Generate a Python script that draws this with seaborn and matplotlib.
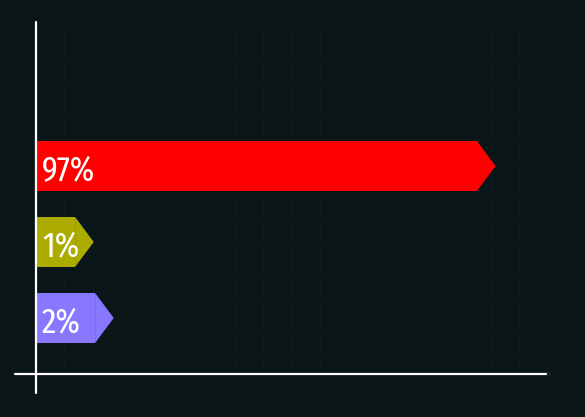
import numpy as np
import pandas as pd
import matplotlib
matplotlib.use("Agg")
import matplotlib.pyplot as plt
from matplotlib.ticker import MultipleLocator
import seaborn as sns

# ---- data ----
categories = ["A", "B", "C"]
shares = [97, 1, 2]                 # label values (%)
bar_extent = [97, 8.6, 13.0]        # rendered bar extent on the x axis (small bars keep room for label)
bar_colors = ["#ff0000", "#abab00", "#8877ff"]
labels = [f"{v}%" for v in shares]

BG = "#0a1517"
GRID = "#0f1a1c"

sns.set_theme(style="dark")
plt.rcParams["font.family"] = ["Fira Sans Extra Condensed", "DejaVu Sans"]

fig = plt.figure(figsize=(5.85, 4.17), dpi=100, facecolor=BG)
ax = fig.add_axes([36 / 585, 1 - 374 / 417, 510 / 585, 352 / 417])
ax.set_facecolor(BG)

df = pd.DataFrame({"cat": categories, "ext": bar_extent})
sns.barplot(data=df, x="ext", y="cat", hue="cat", palette=bar_colors,
            width=0.658, legend=False, ax=ax, saturation=1, linewidth=0)

ax.set_xlim(0, 112.2)
ax.set_ylim(2.737, -1.895)

# arrow tips on each bar
tip = 4.1
for p, col in zip(ax.patches, bar_colors):
    x1 = p.get_x() + p.get_width()
    y0 = p.get_y()
    h = p.get_height()
    ax.fill([x1, x1 + tip, x1], [y0, y0 + h / 2, y0 + h], color=col, lw=0, zorder=p.get_zorder())

# labels
for p, lab in zip(ax.patches, labels):
    ax.text(1.3, p.get_y() + p.get_height() / 2 + 0.01, lab, color="white",
            fontsize=25.5, fontweight="normal", va="center_baseline", ha="left", zorder=5)

# faint grid
ax.xaxis.set_major_locator(MultipleLocator(6.25))
ax.yaxis.set_major_locator(MultipleLocator(0.355))
ax.grid(True, color=GRID, linewidth=1)
ax.tick_params(left=False, bottom=False, labelleft=False, labelbottom=False)
ax.set_xlabel("")
ax.set_ylabel("")
for s in ax.spines.values():
    s.set_visible(False)

# axis lines
ax.axvline(0, ymin=-0.054, ymax=1.0, color="white", lw=1.6, clip_on=False, zorder=6)
ax.axhline(2.737, xmin=-0.041, xmax=1.0, color="white", lw=1.6, clip_on=False, zorder=6)
ax.text(1.0, 0.0, "%", transform=ax.transAxes, fontsize=5, color="#2a3335",
        ha="left", va="center")

fig.savefig("out.png", dpi=100, facecolor=BG)
